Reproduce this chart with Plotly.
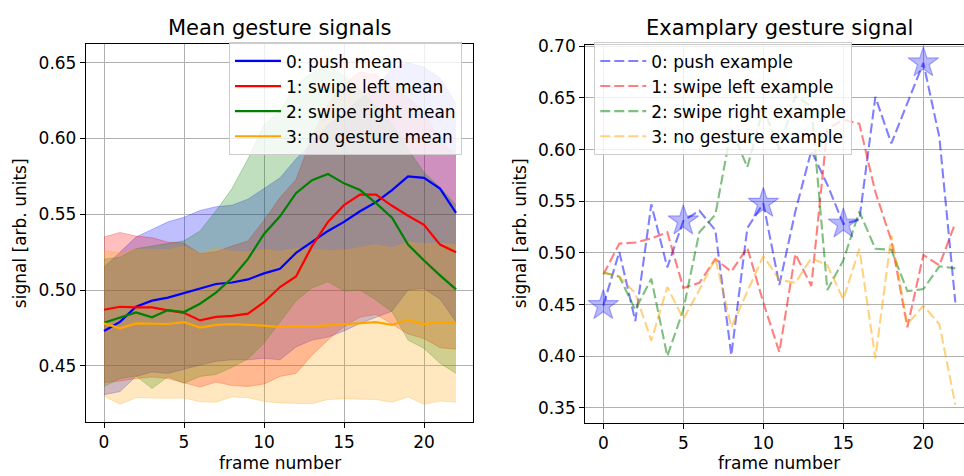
import plotly.graph_objects as go

frames = list(range(23))

push_mean = [0.473, 0.479, 0.489, 0.493, 0.495, 0.498, 0.5015, 0.504, 0.505, 0.507, 0.511, 0.514,
             0.5245, 0.532, 0.539, 0.545, 0.552, 0.558, 0.566, 0.575, 0.574, 0.567, 0.551]
push_std = [0.042, 0.046, 0.046, 0.047, 0.050, 0.050, 0.051, 0.051, 0.051, 0.053, 0.056, 0.060,
            0.062, 0.065, 0.070, 0.072, 0.074, 0.076, 0.080, 0.075, 0.073, 0.073, 0.072]
left_mean = [0.487, 0.489, 0.4886, 0.4886, 0.4866, 0.485, 0.480, 0.4823, 0.483, 0.4844, 0.492, 0.502,
             0.509, 0.529, 0.545, 0.556, 0.563, 0.563, 0.5556, 0.549, 0.543, 0.530, 0.525]
left_std = [0.048, 0.049, 0.047, 0.046, 0.045, 0.046, 0.044, 0.043, 0.046, 0.048, 0.054, 0.059,
            0.064, 0.072, 0.078, 0.080, 0.081, 0.079, 0.078, 0.078, 0.075, 0.068, 0.064]
right_mean = [0.4784, 0.4816, 0.4853, 0.482, 0.4868, 0.4855, 0.491, 0.4983, 0.508, 0.5206, 0.537, 0.5487,
              0.5639, 0.5725, 0.5766, 0.5704, 0.566, 0.5574, 0.5477, 0.530, 0.5195, 0.5097, 0.5005]
right_std = [0.042, 0.040, 0.042, 0.047, 0.044, 0.047, 0.048, 0.054, 0.059, 0.066, 0.072, 0.070,
             0.071, 0.071, 0.071, 0.071, 0.066, 0.064, 0.062, 0.063, 0.058, 0.058, 0.0555]
none_mean = [0.478, 0.4747, 0.478, 0.4776, 0.4776, 0.4788, 0.4753, 0.477, 0.4775, 0.477, 0.4766, 0.4755,
             0.4764, 0.476, 0.4768, 0.4773, 0.478, 0.4788, 0.477, 0.4805, 0.4776, 0.4788, 0.478]
none_std = [0.048, 0.050, 0.049, 0.049, 0.049, 0.050, 0.049, 0.051, 0.048, 0.048, 0.050, 0.050,
            0.051, 0.051, 0.049, 0.049, 0.050, 0.051, 0.051, 0.051, 0.053, 0.052, 0.052]

push_example = [0.449, 0.501, 0.434, 0.547, 0.486, 0.531, 0.541, 0.522, 0.401, 0.524, 0.548, 0.469,
                0.540, 0.599, 0.566, 0.528, 0.532, 0.651, 0.606, 0.645, 0.684, 0.612, 0.452]
left_example = [0.479, 0.509, 0.510, 0.514, 0.520, 0.466, 0.471, 0.494, 0.482, 0.505, 0.452, 0.404,
                0.499, 0.468, 0.620, 0.629, 0.625, 0.559, 0.512, 0.428, 0.498, 0.488, 0.529]
right_example = [0.481, 0.477, 0.445, 0.475, 0.400, 0.445, 0.520, 0.537, 0.620, 0.583, 0.640, 0.600,
                 0.652, 0.642, 0.464, 0.493, 0.540, 0.504, 0.503, 0.463, 0.465, 0.487, 0.485]
none_example = [0.481, 0.477, 0.461, 0.415, 0.467, 0.436, 0.464, 0.495, 0.428, 0.462, 0.497, 0.474,
                0.471, 0.495, 0.488, 0.455, 0.504, 0.398, 0.517, 0.431, 0.449, 0.431, 0.353]

class_names = ["0: push", "1: swipe left", "2: swipe right", "3: no gesture"]
colors_rgb = [(0, 0, 255), (255, 0, 0), (0, 128, 0), (255, 165, 0)]
means = [push_mean, left_mean, right_mean, none_mean]
stds = [push_std, left_std, right_std, none_std]
examples = [push_example, left_example, right_example, none_example]
marker_every = 5

def rgba(c, a):
    return "rgba(%d,%d,%d,%s)" % (c[0], c[1], c[2], a)

fig = go.Figure()
FONT = "DejaVu Sans"

# bands
for name, c, m, s in zip(class_names, colors_rgb, means, stds):
    lo = [a - b for a, b in zip(m, s)]
    hi = [a + b for a, b in zip(m, s)]
    fig.add_trace(go.Scatter(x=frames, y=lo, mode="lines", line=dict(color=rgba(c, 0.25), width=1),
                             showlegend=False, hoverinfo="skip", xaxis="x", yaxis="y"))
    fig.add_trace(go.Scatter(x=frames, y=hi, mode="lines", line=dict(color=rgba(c, 0.25), width=1),
                             fill="tonexty", fillcolor=rgba(c, 0.25),
                             showlegend=False, hoverinfo="skip", xaxis="x", yaxis="y"))
# mean lines
for name, c, m in zip(class_names, colors_rgb, means):
    fig.add_trace(go.Scatter(x=frames, y=m, mode="lines", name=name + " mean",
                             line=dict(color=rgba(c, 1), width=2.2),
                             legend="legend", xaxis="x", yaxis="y"))
# examples
for name, c, e in zip(class_names, colors_rgb, examples):
    fig.add_trace(go.Scatter(x=frames, y=e, mode="lines", name=name + " example",
                             line=dict(color=rgba(c, 0.5), width=2.1, dash="10px,4px"),
                             legend="legend2", xaxis="x2", yaxis="y2"))
fig.add_trace(go.Scatter(x=frames[::marker_every], y=push_example[::marker_every], mode="markers",
                         marker=dict(symbol="star", size=23, color=rgba(colors_rgb[0], 0.28),
                                     line=dict(color=rgba(colors_rgb[0], 0.3), width=1.2)),
                         showlegend=False, hoverinfo="skip", legend="legend2",
                         xaxis="x2", yaxis="y2"))

W, H = 964, 476
def px_x(p):
    return p / W
def px_y(p):
    return 1 - p / H

axis_common = dict(showgrid=True, gridcolor="#b0b0b0", gridwidth=1.3, showline=True,
                   linecolor="black", linewidth=1.3, ticks="outside", ticklen=5, tickwidth=1.2,
                   tickcolor="black", zeroline=False, tickfont=dict(size=17, family=FONT, color="black"))

legend_common = dict(xanchor="left", yanchor="top", bgcolor="rgba(255,255,255,0.8)",
                     bordercolor="#cccccc", borderwidth=1, font=dict(size=17, family=FONT),
                     traceorder="normal", itemwidth=46)

fig.update_layout(
    width=W, height=H, margin=dict(l=0, r=0, t=0, b=0),
    paper_bgcolor="white", plot_bgcolor="white",
    font=dict(family=FONT, color="black", size=17),
    xaxis=dict(domain=[px_x(86), px_x(473.3)], range=[-1.125, 23.08], tickvals=[0, 5, 10, 15, 20],
               mirror=True, anchor="y", **axis_common),
    yaxis=dict(domain=[px_y(421), px_y(36.7)], range=[0.413, 0.6623],
               tickvals=[0.45, 0.50, 0.55, 0.60, 0.65], tickformat=".2f",
               mirror=True, anchor="x", **axis_common),
    xaxis2=dict(domain=[px_x(585.3), 1.0], range=[-1.125, 22.54], tickvals=[0, 5, 10, 15, 20],
                mirror=True, anchor="y2", **axis_common),
    yaxis2=dict(domain=[px_y(421.7), px_y(37.3)], range=[0.3357, 0.7016],
                tickvals=[0.35, 0.40, 0.45, 0.50, 0.55, 0.60, 0.65, 0.70], tickformat=".2f",
                mirror=False, anchor="x2", **axis_common),
    legend=dict(x=px_x(229), y=px_y(35), **legend_common),
    legend2=dict(x=px_x(594.3), y=px_y(35), **legend_common),
    annotations=[
        dict(text="Mean gesture signals", x=px_x(279.6), y=px_y(20), xref="paper", yref="paper",
             showarrow=False, xanchor="center", yanchor="middle", font=dict(size=21, family=FONT)),
        dict(text="Examplary gesture signal", x=px_x(779), y=px_y(20), xref="paper", yref="paper",
             showarrow=False, xanchor="center", yanchor="middle", font=dict(size=21, family=FONT)),
        dict(text="frame number", x=px_x(279.6), y=px_y(463), xref="paper", yref="paper",
             showarrow=False, xanchor="center", yanchor="middle", font=dict(size=17, family=FONT)),
        dict(text="frame number", x=px_x(779), y=px_y(463), xref="paper", yref="paper",
             showarrow=False, xanchor="center", yanchor="middle", font=dict(size=17, family=FONT)),
        dict(text="signal [arb. units]", x=px_x(20), y=px_y(229), xref="paper", yref="paper",
             showarrow=False, xanchor="center", yanchor="middle", textangle=-90,
             font=dict(size=17, family=FONT)),
        dict(text="signal [arb. units]", x=px_x(520), y=px_y(229), xref="paper", yref="paper",
             showarrow=False, xanchor="center", yanchor="middle", textangle=-90,
             font=dict(size=17, family=FONT)),
    ],
)

fig.write_html("out.html")
